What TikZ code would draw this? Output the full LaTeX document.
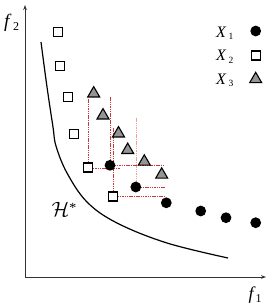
\documentclass[tikz,border=0pt]{standalone}
\usepackage{fontspec}
\setmainfont{Liberation Serif}
\usetikzlibrary{arrows.meta,shapes.geometric}
\definecolor{dred}{RGB}{205,55,55}
\definecolor{lred}{RGB}{238,160,160}
\begin{document}
\begin{tikzpicture}[x=1pt,y=-1pt,
  dot/.style={circle,fill=black,inner sep=0pt,minimum size=10.8pt},
  sq/.style={rectangle,draw=black,fill=white,line width=1.2pt,inner sep=0pt,minimum size=9pt},
  tri/.style={regular polygon,regular polygon sides=3,draw=black,fill=black!42,line width=1.1pt,inner sep=0pt,minimum size=13.8pt,yshift=-1.7pt},
  dl/.style={draw=dred,line width=0.6pt,dash pattern=on 1.5pt off 0.8pt},
  dll/.style={dl,draw=lred},
  axis/.style={line width=0.8pt,draw=black!80,-{Stealth[length=5pt,width=3.6pt]}},
  lab/.style={anchor=base west,inner sep=0pt},
  legx/.style={lab,font=\fontsize{16}{18}\selectfont\itshape},
  legs/.style={lab,font=\fontsize{9.5}{10}\selectfont},
]
\useasboundingbox (0,0) rectangle (273,306);
% axes
\coordinate (o) at (25,277);
\coordinate (ytip) at (25,5);
\coordinate (xtip) at (266,277);
\draw[axis] (o) -- (ytip);
\draw[axis] (o) -- (xtip);
\node[lab,font=\fontsize{19}{20}\selectfont\itshape] (f2) at (4,27) {f};
\node[lab,font=\fontsize{12}{13}\selectfont] (f2s) at (13,30.5) {2};
\node[lab,font=\fontsize{18}{20}\selectfont\itshape] (f1) at (248.5,299) {f};
\node[lab,font=\fontsize{12}{13}\selectfont] (f1s) at (255.5,302) {1};
% front curve
\draw[line width=1.2pt] plot[smooth,tension=0.6] coordinates {(41,42) (47,87) (53,127) (56,146) (67,173) (87,202) (117,223) (167,243) (228,258)};
\node[lab,font=\fontsize{22}{24}\selectfont] (H) at (51.5,216) {$\mathcal{H}$\raisebox{3.5pt}{\fontsize{14}{14}\selectfont *}};
% marker positions
\coordinate (p5) at (88.3,167.5);
\coordinate (p6) at (113,196.5);
\coordinate (q1) at (110,165.3);
\coordinate (q2) at (135.8,187);
% dashed guide lines
\coordinate (v1) at (88.3,99);
\coordinate (v2) at (110,97);
\coordinate (v3) at (113,128);
\coordinate (v4) at (135.8,118);
\coordinate (h1) at (120,168);
\coordinate (h2) at (163,165.3);
\coordinate (h3) at (165,187);
\coordinate (h4) at (164,196.5);
\draw[dl] (v1) -- (p5);
\draw[dl,line width=0.8pt] (v2) -- (q1);
\draw[dl] (v3) -- (p6);
\draw[dll] (v4) -- (q2);
\draw[dl] (p5 |- h1) -- (h1);
\draw[dl] (q1) -- (h2);
\draw[dl] (q2) -- (h3);
\draw[dl] (p6) -- (h4);
% X2 squares
\node[sq] (s1) at (58.3,31.7) {};
\node[sq] (s2) at (60,65.7) {};
\node[sq] (s3) at (67.7,96.7) {};
\node[sq] (s4) at (73.7,134.2) {};
\node[sq] (s5) at (p5) {};
\node[sq] (s6) at (p6) {};
% X3 triangles
\node[tri] (t1) at (93.7,91.8) {};
\node[tri] (t2) at (103,113.8) {};
\node[tri] (t3) at (118.5,131.8) {};
\node[tri] (t4) at (127.7,148.3) {};
\node[tri] (t5) at (144.3,160) {};
\node[tri] (t6) at (161.7,173) {};
% X1 dots
\node[dot] (c1) at (q1) {};
\node[dot] (c2) at (q2) {};
\node[dot] (c3) at (166.3,202.8) {};
\node[dot] (c4) at (200.7,211) {};
\node[dot] (c5) at (226,217.7) {};
\node[dot] (c6) at (255.7,222.7) {};
% legend
\node[legx] (lx1) at (216,37) {X};
\node[legs] (ls1) at (228.5,39.5) {1};
\node[dot] (lc) at (255.7,31) {};
\node[legx] (lx2) at (216,60.5) {X};
\node[legs] (ls2) at (228.5,63) {2};
\node[sq] (lsq) at (255.7,55.5) {};
\node[legx] (lx3) at (216,84) {X};
\node[legs] (ls3) at (228.5,86.5) {3};
\node[tri] (ltr) at (255.7,77.5) {};
\end{tikzpicture}
\end{document}
